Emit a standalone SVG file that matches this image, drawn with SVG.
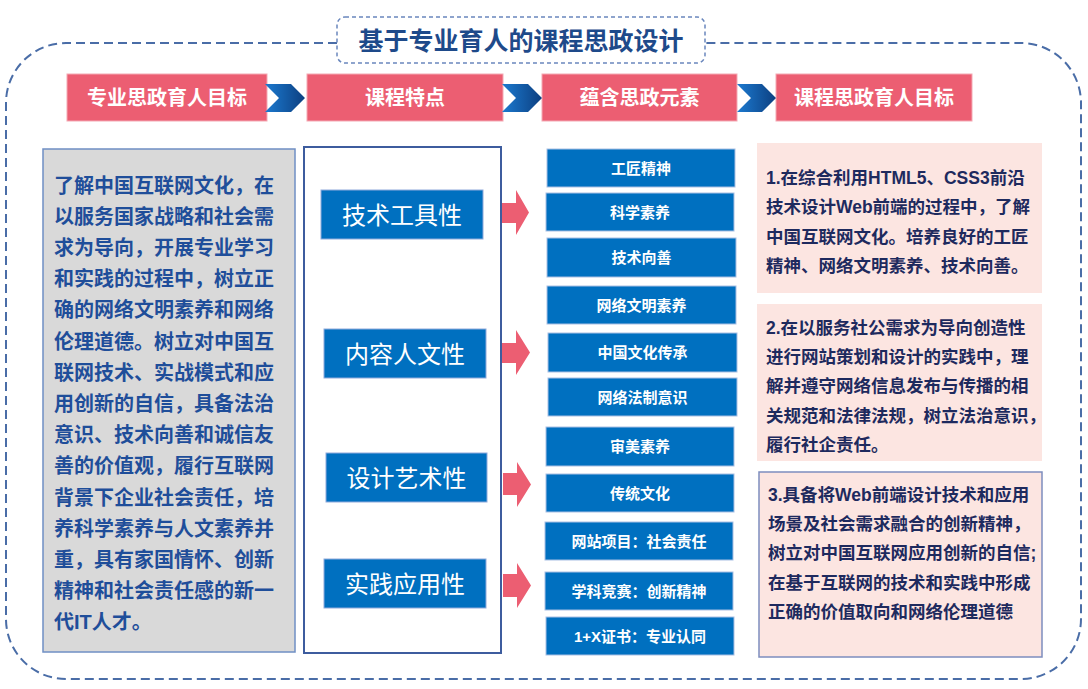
<svg xmlns="http://www.w3.org/2000/svg" width="1088" height="689" viewBox="0 0 1088 689">
<defs>
<linearGradient id="chev" x1="0" y1="0" x2="1" y2="0">
<stop offset="0" stop-color="#1C7AD0"/>
<stop offset="1" stop-color="#0C3F80"/>
</linearGradient>
<style>
text{font-family:"Liberation Sans","Noto Sans CJK SC",sans-serif;}
.hdr{fill:#EC5E72;stroke:#F4A9B4;stroke-width:1;}
.hdrt{fill:#fff;font-size:20px;font-weight:bold;text-anchor:middle;}
.feat{fill:#0070C0;stroke:#8FAADC;stroke-width:1;}
.featt{fill:#fff;font-size:24px;font-weight:normal;text-anchor:middle;}
.elem{fill:#0070C0;stroke:#A9BFE3;stroke-width:1;}
.elemt{fill:#fff;font-size:15px;font-weight:bold;text-anchor:middle;}
.pink{fill:#FCE5E1;}
.pinkt{fill:#1E2A5E;font-size:17.5px;font-weight:bold;}
.leftt{fill:#1F4E9A;font-size:20px;font-weight:bold;}
.arrow{fill:#EC5E72;}
.chev{fill:url(#chev);}
</style>
</defs>
<rect width="1088" height="689" fill="#fff"/>

<g id="frame">
<path d="M337,43 H66 A60,60 0 0 0 6,103 V619 A60,60 0 0 0 66,679 H1021 A60,60 0 0 0 1081,619 V103 A60,60 0 0 0 1021,43 H705" fill="none" stroke="#4A6DA7" stroke-width="2" stroke-dasharray="9 5"/>
</g>

<g id="title">
<rect x="337" y="17" width="368" height="46" rx="8" fill="#fff" stroke="#6A87BD" stroke-width="1.5" stroke-dasharray="4 3"/>
<text x="521" y="49.5" font-size="25" font-weight="bold" fill="#1E4A8A" text-anchor="middle">基于专业育人的课程思政设计</text>
</g>

<g id="header1"><rect class="hdr" x="67" y="74" width="200" height="47"/><text class="hdrt" x="167" y="105">专业思政育人目标</text></g>
<g id="header2"><rect class="hdr" x="307" y="74" width="196" height="47"/><text class="hdrt" x="405" y="105">课程特点</text></g>
<g id="header3"><rect class="hdr" x="542" y="74" width="195" height="47"/><text class="hdrt" x="639.5" y="105">蕴含思政元素</text></g>
<g id="header4"><rect class="hdr" x="776" y="74" width="196" height="47"/><text class="hdrt" x="874" y="105">课程思政育人目标</text></g>

<g id="goal-text">
<rect x="43" y="149" width="252" height="503" fill="#D9D9D9" stroke="#6F8FC4" stroke-width="1.5"/>
<text class="leftt">
<tspan x="54" y="192.6">了解中国互联网文化，在</tspan>
<tspan x="54" y="223.8">以服务国家战略和社会需</tspan>
<tspan x="54" y="255">求为导向，开展专业学习</tspan>
<tspan x="54" y="286.2">和实践的过程中，树立正</tspan>
<tspan x="54" y="317.4">确的网络文明素养和网络</tspan>
<tspan x="54" y="348.6">伦理道德。树立对中国互</tspan>
<tspan x="54" y="379.8">联网技术、实战模式和应</tspan>
<tspan x="54" y="411">用创新的自信，具备法治</tspan>
<tspan x="54" y="442.2">意识、技术向善和诚信友</tspan>
<tspan x="54" y="473.4">善的价值观，履行互联网</tspan>
<tspan x="54" y="504.6">背景下企业社会责任，培</tspan>
<tspan x="54" y="535.8">养科学素养与人文素养并</tspan>
<tspan x="54" y="567">重，具有家国情怀、创新</tspan>
<tspan x="54" y="598.2">精神和社会责任感的新一</tspan>
<tspan x="54" y="629.4">代IT人才。</tspan>
</text>
</g>

<g id="features">
<rect x="304" y="147" width="197" height="506" fill="#fff" stroke="#3D5C9E" stroke-width="2"/>
</g>
<g id="feat1"><rect class="feat" x="321" y="190" width="162" height="49"/><text class="featt" x="402" y="223.6">技术工具性</text></g>
<g id="feat2"><rect class="feat" x="324" y="329" width="162" height="49"/><text class="featt" x="405" y="362.6">内容人文性</text></g>
<g id="feat3"><rect class="feat" x="326" y="453" width="161" height="49"/><text class="featt" x="406.5" y="486.6">设计艺术性</text></g>
<g id="feat4"><rect class="feat" x="324" y="559" width="162" height="49"/><text class="featt" x="405" y="592.6">实践应用性</text></g>

<g id="elem1"><rect class="elem" x="547" y="149" width="188" height="38"/><text class="elemt" x="641" y="173.7">工匠精神</text></g>
<g id="elem2"><rect class="elem" x="546" y="193" width="188" height="38"/><text class="elemt" x="640" y="217.7">科学素养</text></g>
<g id="elem3"><rect class="elem" x="547" y="238" width="189" height="39"/><text class="elemt" x="641.5" y="263.2">技术向善</text></g>
<g id="elem4"><rect class="elem" x="547" y="286" width="189" height="38"/><text class="elemt" x="641.5" y="310.7">网络文明素养</text></g>
<g id="elem5"><rect class="elem" x="548" y="333" width="189" height="39"/><text class="elemt" x="642.5" y="358.2">中国文化传承</text></g>
<g id="elem6"><rect class="elem" x="548" y="378" width="189" height="38"/><text class="elemt" x="642.5" y="402.7">网络法制意识</text></g>
<g id="elem7"><rect class="elem" x="546" y="427" width="188" height="39"/><text class="elemt" x="640" y="452.2">审美素养</text></g>
<g id="elem8"><rect class="elem" x="546" y="474" width="188" height="38"/><text class="elemt" x="640" y="498.7">传统文化</text></g>
<g id="elem9"><rect class="elem" x="545" y="522" width="188" height="38"/><text class="elemt" x="639" y="546.7">网站项目：社会责任</text></g>
<g id="elem10"><rect class="elem" x="545" y="572" width="188" height="38"/><text class="elemt" x="639" y="596.7">学科竞赛：创新精神</text></g>
<g id="elem11"><rect class="elem" x="546" y="617" width="188" height="38"/><text class="elemt" x="640" y="641.7">1+X证书：专业认同</text></g>

<g id="target1">
<rect class="pink" x="757" y="143" width="285" height="150"/>
<text class="pinkt">
<tspan x="766" y="184">1.在综合利用HTML5、CSS3前沿</tspan>
<tspan x="766" y="213.3">技术设计Web前端的过程中，了解</tspan>
<tspan x="766" y="242.6">中国互联网文化。培养良好的工匠</tspan>
<tspan x="766" y="271.9">精神、网络文明素养、技术向善。</tspan>
</text>
</g>
<g id="target2">
<rect class="pink" x="757" y="304" width="285" height="157"/>
<text class="pinkt">
<tspan x="766" y="333.7">2.在以服务社公需求为导向创造性</tspan>
<tspan x="766" y="363">进行网站策划和设计的实践中，理</tspan>
<tspan x="766" y="392.3">解并遵守网络信息发布与传播的相</tspan>
<tspan x="766" y="421.6">关规范和法律法规，树立法治意识，</tspan>
<tspan x="766" y="450.9">履行社企责任。</tspan>
</text>
</g>
<g id="target3">
<rect class="pink" x="759" y="472" width="283" height="185" stroke="#7D8DBE" stroke-width="1.5"/>
<text class="pinkt">
<tspan x="768" y="500.7">3.具备将Web前端设计技术和应用</tspan>
<tspan x="768" y="530">场景及社会需求融合的创新精神，</tspan>
<tspan x="768" y="559.3">树立对中国互联网应用创新的自信;</tspan>
<tspan x="768" y="588.6">在基于互联网的技术和实践中形成</tspan>
<tspan x="768" y="617.9">正确的价值取向和网络伦理道德</tspan>
</text>
</g>

<g id="connectors">
<polygon class="chev" points="265,84 291,84 305,98 291,112 265,112 279,98"/>
<polygon class="chev" points="502,84 528,84 542,98 528,112 502,112 516,98"/>
<polygon class="chev" points="737,84 762,84 776,98 762,112 737,112 751,98"/>
<polygon class="arrow" points="502,203 516,203 516,190 529,212.5 516,235 516,223 502,223"/>
<polygon class="arrow" points="502,343 516,343 516,330 530,352.5 516,375 516,363 502,363"/>
<polygon class="arrow" points="503,473 517,473 517,462 531,484.5 517,507 517,495 503,495"/>
<polygon class="arrow" points="503,574 517,574 517,563 531,585.5 517,608 517,597 503,597"/>
</g>
</svg>
